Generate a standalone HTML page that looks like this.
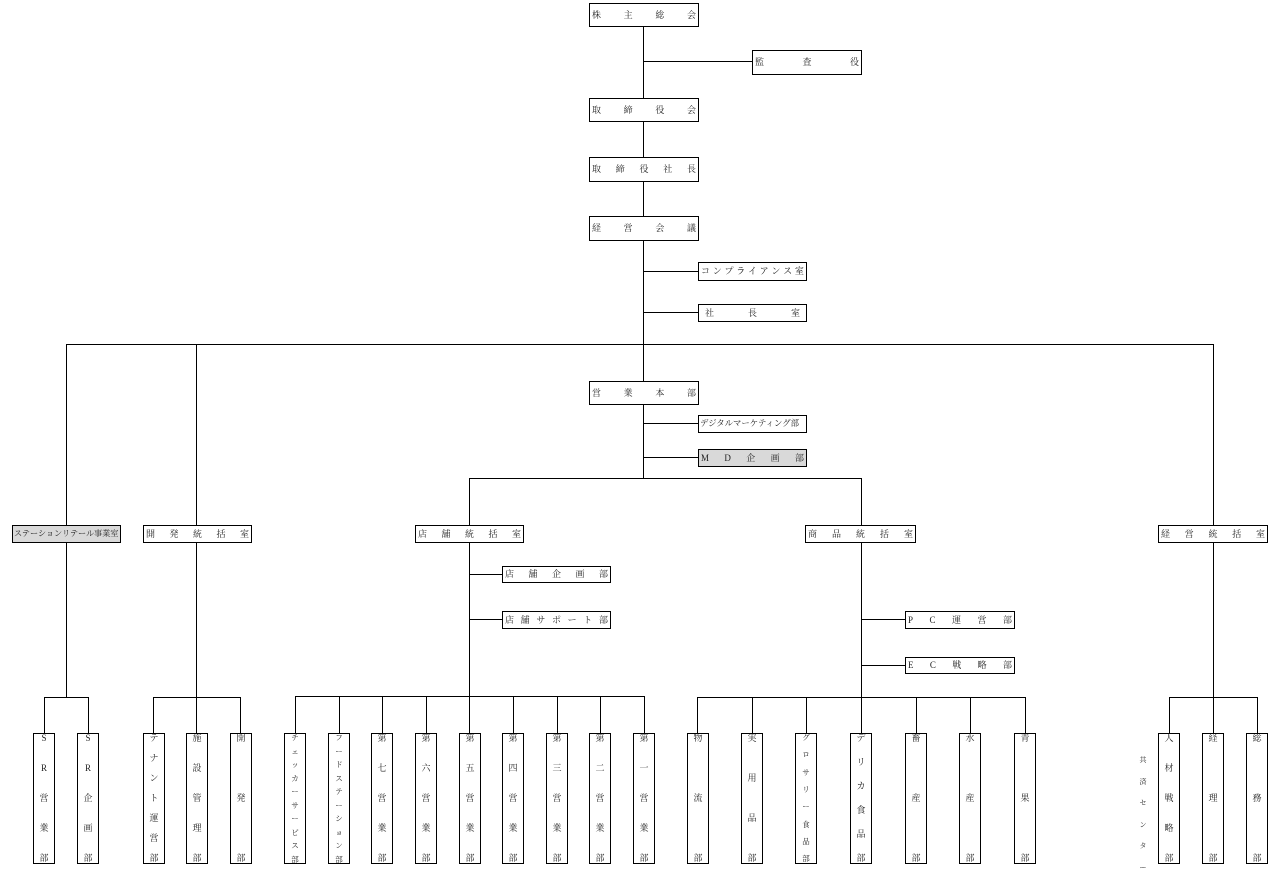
<!DOCTYPE html>
<html><head><meta charset="utf-8"><style>
body{margin:0;width:1279px;height:869px;background:#fff;position:relative;overflow:hidden;font-family:"Liberation Serif","Noto Serif CJK SC","Noto Sans CJK JP",serif;font-size:9px;color:#222}
.b{position:absolute;border:1.3px solid #000;box-sizing:border-box;background:#fff;display:flex;justify-content:space-between;align-items:center;padding:0 2px;white-space:nowrap;line-height:1;overflow:hidden}
.g{background:#d9d9d9}
.v{position:absolute;border:1.3px solid #000;box-sizing:border-box;background:#fff;display:flex;flex-direction:column;justify-content:space-between;align-items:center;padding:0;line-height:1;top:733px;height:131px;width:22px;font-size:9px;overflow:hidden}
.s{font-size:7.5px}
.l{position:absolute;background:#000}
.hl{height:1.3px}.vl{width:1.3px}
</style></head><body>
<div class="l vl" style="left:643px;top:26px;height:452px"></div>
<div class="l hl" style="left:643px;top:61px;width:110px"></div>
<div class="l hl" style="left:643px;top:271px;width:56px"></div>
<div class="l hl" style="left:643px;top:312px;width:56px"></div>
<div class="l hl" style="left:66px;top:344px;width:1148px"></div>
<div class="l vl" style="left:66px;top:344px;height:181px"></div>
<div class="l vl" style="left:196px;top:344px;height:181px"></div>
<div class="l vl" style="left:1213px;top:344px;height:181px"></div>
<div class="l hl" style="left:643px;top:423px;width:56px"></div>
<div class="l hl" style="left:643px;top:457px;width:56px"></div>
<div class="l hl" style="left:469px;top:478px;width:393px"></div>
<div class="l vl" style="left:469px;top:478px;height:219px"></div>
<div class="l vl" style="left:861px;top:478px;height:219px"></div>
<div class="l hl" style="left:469px;top:574px;width:34px"></div>
<div class="l hl" style="left:469px;top:619px;width:34px"></div>
<div class="l hl" style="left:861px;top:619px;width:45px"></div>
<div class="l hl" style="left:861px;top:665px;width:45px"></div>
<div class="l vl" style="left:66px;top:542px;height:155px"></div>
<div class="l vl" style="left:196px;top:542px;height:155px"></div>
<div class="l vl" style="left:1213px;top:542px;height:155px"></div>
<div class="l hl" style="left:44px;top:697px;width:45px"></div>
<div class="l vl" style="left:44px;top:697px;height:36px"></div>
<div class="l vl" style="left:88px;top:697px;height:36px"></div>
<div class="l hl" style="left:153px;top:697px;width:88px"></div>
<div class="l vl" style="left:153px;top:697px;height:36px"></div>
<div class="l vl" style="left:196px;top:697px;height:36px"></div>
<div class="l vl" style="left:240px;top:697px;height:36px"></div>
<div class="l hl" style="left:295px;top:696px;width:350px"></div>
<div class="l vl" style="left:295px;top:696px;height:37px"></div>
<div class="l vl" style="left:339px;top:696px;height:37px"></div>
<div class="l vl" style="left:382px;top:696px;height:37px"></div>
<div class="l vl" style="left:426px;top:696px;height:37px"></div>
<div class="l vl" style="left:469px;top:696px;height:37px"></div>
<div class="l vl" style="left:513px;top:696px;height:37px"></div>
<div class="l vl" style="left:557px;top:696px;height:37px"></div>
<div class="l vl" style="left:600px;top:696px;height:37px"></div>
<div class="l vl" style="left:644px;top:696px;height:37px"></div>
<div class="l hl" style="left:697px;top:697px;width:329px"></div>
<div class="l vl" style="left:697px;top:697px;height:36px"></div>
<div class="l vl" style="left:752px;top:697px;height:36px"></div>
<div class="l vl" style="left:806px;top:697px;height:36px"></div>
<div class="l vl" style="left:861px;top:697px;height:36px"></div>
<div class="l vl" style="left:916px;top:697px;height:36px"></div>
<div class="l vl" style="left:970px;top:697px;height:36px"></div>
<div class="l vl" style="left:1025px;top:697px;height:36px"></div>
<div class="l hl" style="left:1169px;top:697px;width:89px"></div>
<div class="l vl" style="left:1169px;top:697px;height:36px"></div>
<div class="l vl" style="left:1213px;top:697px;height:36px"></div>
<div class="l vl" style="left:1257px;top:697px;height:36px"></div>
<div class="b" style="left:589px;top:3px;width:110px;height:24px"><span>株</span><span>主</span><span>総</span><span>会</span></div>
<div class="b" style="left:752px;top:50px;width:110px;height:25px"><span>監</span><span>査</span><span>役</span></div>
<div class="b" style="left:589px;top:98px;width:110px;height:24px"><span>取</span><span>締</span><span>役</span><span>会</span></div>
<div class="b" style="left:589px;top:157px;width:110px;height:25px"><span>取</span><span>締</span><span>役</span><span>社</span><span>長</span></div>
<div class="b" style="left:589px;top:216px;width:110px;height:25px"><span>経</span><span>営</span><span>会</span><span>議</span></div>
<div class="b" style="left:698px;top:262px;width:109px;height:19px"><span>コ</span><span>ン</span><span>プ</span><span>ラ</span><span>イ</span><span>ア</span><span>ン</span><span>ス</span><span>室</span></div>
<div class="b" style="left:698px;top:304px;width:109px;height:18px;padding:0 6px"><span>社</span><span>長</span><span>室</span></div>
<div class="b" style="left:589px;top:381px;width:110px;height:24px"><span>営</span><span>業</span><span>本</span><span>部</span></div>
<div class="b" style="left:698px;top:415px;width:109px;height:18px;font-size:8.4px;padding:0 1px"><span>デジタルマーケティング部</span></div>
<div class="b g" style="left:698px;top:449px;width:109px;height:18px"><span>M</span><span>D</span><span>企</span><span>画</span><span>部</span></div>
<div class="b g" style="left:12px;top:525px;width:109px;height:18px;padding:0 1px;font-size:8.2px;letter-spacing:-0.1px"><span>ステーションリテール事業室</span></div>
<div class="b" style="left:143px;top:525px;width:109px;height:18px"><span>開</span><span>発</span><span>統</span><span>括</span><span>室</span></div>
<div class="b" style="left:415px;top:525px;width:109px;height:18px"><span>店</span><span>舗</span><span>統</span><span>括</span><span>室</span></div>
<div class="b" style="left:805px;top:525px;width:111px;height:18px"><span>商</span><span>品</span><span>統</span><span>括</span><span>室</span></div>
<div class="b" style="left:1158px;top:525px;width:110px;height:18px"><span>経</span><span>営</span><span>統</span><span>括</span><span>室</span></div>
<div class="b" style="left:502px;top:566px;width:109px;height:17px"><span>店</span><span>舗</span><span>企</span><span>画</span><span>部</span></div>
<div class="b" style="left:502px;top:611px;width:109px;height:18px"><span>店</span><span>舗</span><span>サ</span><span>ポ</span><span>ー</span><span>ト</span><span>部</span></div>
<div class="b" style="left:905px;top:611px;width:110px;height:18px"><span>P</span><span>C</span><span>運</span><span>営</span><span>部</span></div>
<div class="b" style="left:905px;top:657px;width:110px;height:17px"><span>E</span><span>C</span><span>戦</span><span>略</span><span>部</span></div>
<div class="v g" style="left:33px"><span>S</span><span>R</span><span>営</span><span>業</span><span>部</span></div>
<div class="v g" style="left:77px"><span>S</span><span>R</span><span>企</span><span>画</span><span>部</span></div>
<div class="v" style="left:143px"><span>テ</span><span>ナ</span><span>ン</span><span>ト</span><span>運</span><span>営</span><span>部</span></div>
<div class="v" style="left:186px"><span>施</span><span>設</span><span>管</span><span>理</span><span>部</span></div>
<div class="v" style="left:230px"><span>開</span><span>発</span><span>部</span></div>
<div class="v s" style="left:284px"><span>チ</span><span>ェ</span><span>ッ</span><span>カ</span><span>ー</span><span>サ</span><span>ー</span><span>ビ</span><span>ス</span><span>部</span></div>
<div class="v s" style="left:328px"><span>フ</span><span>ー</span><span>ド</span><span>ス</span><span>テ</span><span>ー</span><span>シ</span><span>ョ</span><span>ン</span><span>部</span></div>
<div class="v" style="left:371px"><span>第</span><span>七</span><span>営</span><span>業</span><span>部</span></div>
<div class="v" style="left:415px"><span>第</span><span>六</span><span>営</span><span>業</span><span>部</span></div>
<div class="v" style="left:459px"><span>第</span><span>五</span><span>営</span><span>業</span><span>部</span></div>
<div class="v" style="left:502px"><span>第</span><span>四</span><span>営</span><span>業</span><span>部</span></div>
<div class="v" style="left:546px"><span>第</span><span>三</span><span>営</span><span>業</span><span>部</span></div>
<div class="v" style="left:589px"><span>第</span><span>二</span><span>営</span><span>業</span><span>部</span></div>
<div class="v" style="left:633px"><span>第</span><span>一</span><span>営</span><span>業</span><span>部</span></div>
<div class="v" style="left:687px"><span>物</span><span>流</span><span>部</span></div>
<div class="v" style="left:741px"><span>実</span><span>用</span><span>品</span><span>部</span></div>
<div class="v s" style="left:795px"><span>グ</span><span>ロ</span><span>サ</span><span>リ</span><span>ー</span><span>食</span><span>品</span><span>部</span></div>
<div class="v" style="left:850px"><span>デ</span><span>リ</span><span>カ</span><span>食</span><span>品</span><span>部</span></div>
<div class="v" style="left:905px"><span>畜</span><span>産</span><span>部</span></div>
<div class="v" style="left:959px"><span>水</span><span>産</span><span>部</span></div>
<div class="v" style="left:1014px"><span>青</span><span>果</span><span>部</span></div>
<div class="v" style="left:1158px"><span>人</span><span>材</span><span>戦</span><span>略</span><span>部</span></div>
<div class="v" style="left:1202px"><span>経</span><span>理</span><span>部</span></div>
<div class="v" style="left:1246px"><span>総</span><span>務</span><span>部</span></div>
<div style="position:absolute;left:1137px;top:757px;width:12px;height:115px;display:flex;flex-direction:column;justify-content:space-between;align-items:center;font-size:7px;line-height:1"><span>共</span><span>済</span><span>セ</span><span>ン</span><span>タ</span><span>ー</span></div>
</body></html>
